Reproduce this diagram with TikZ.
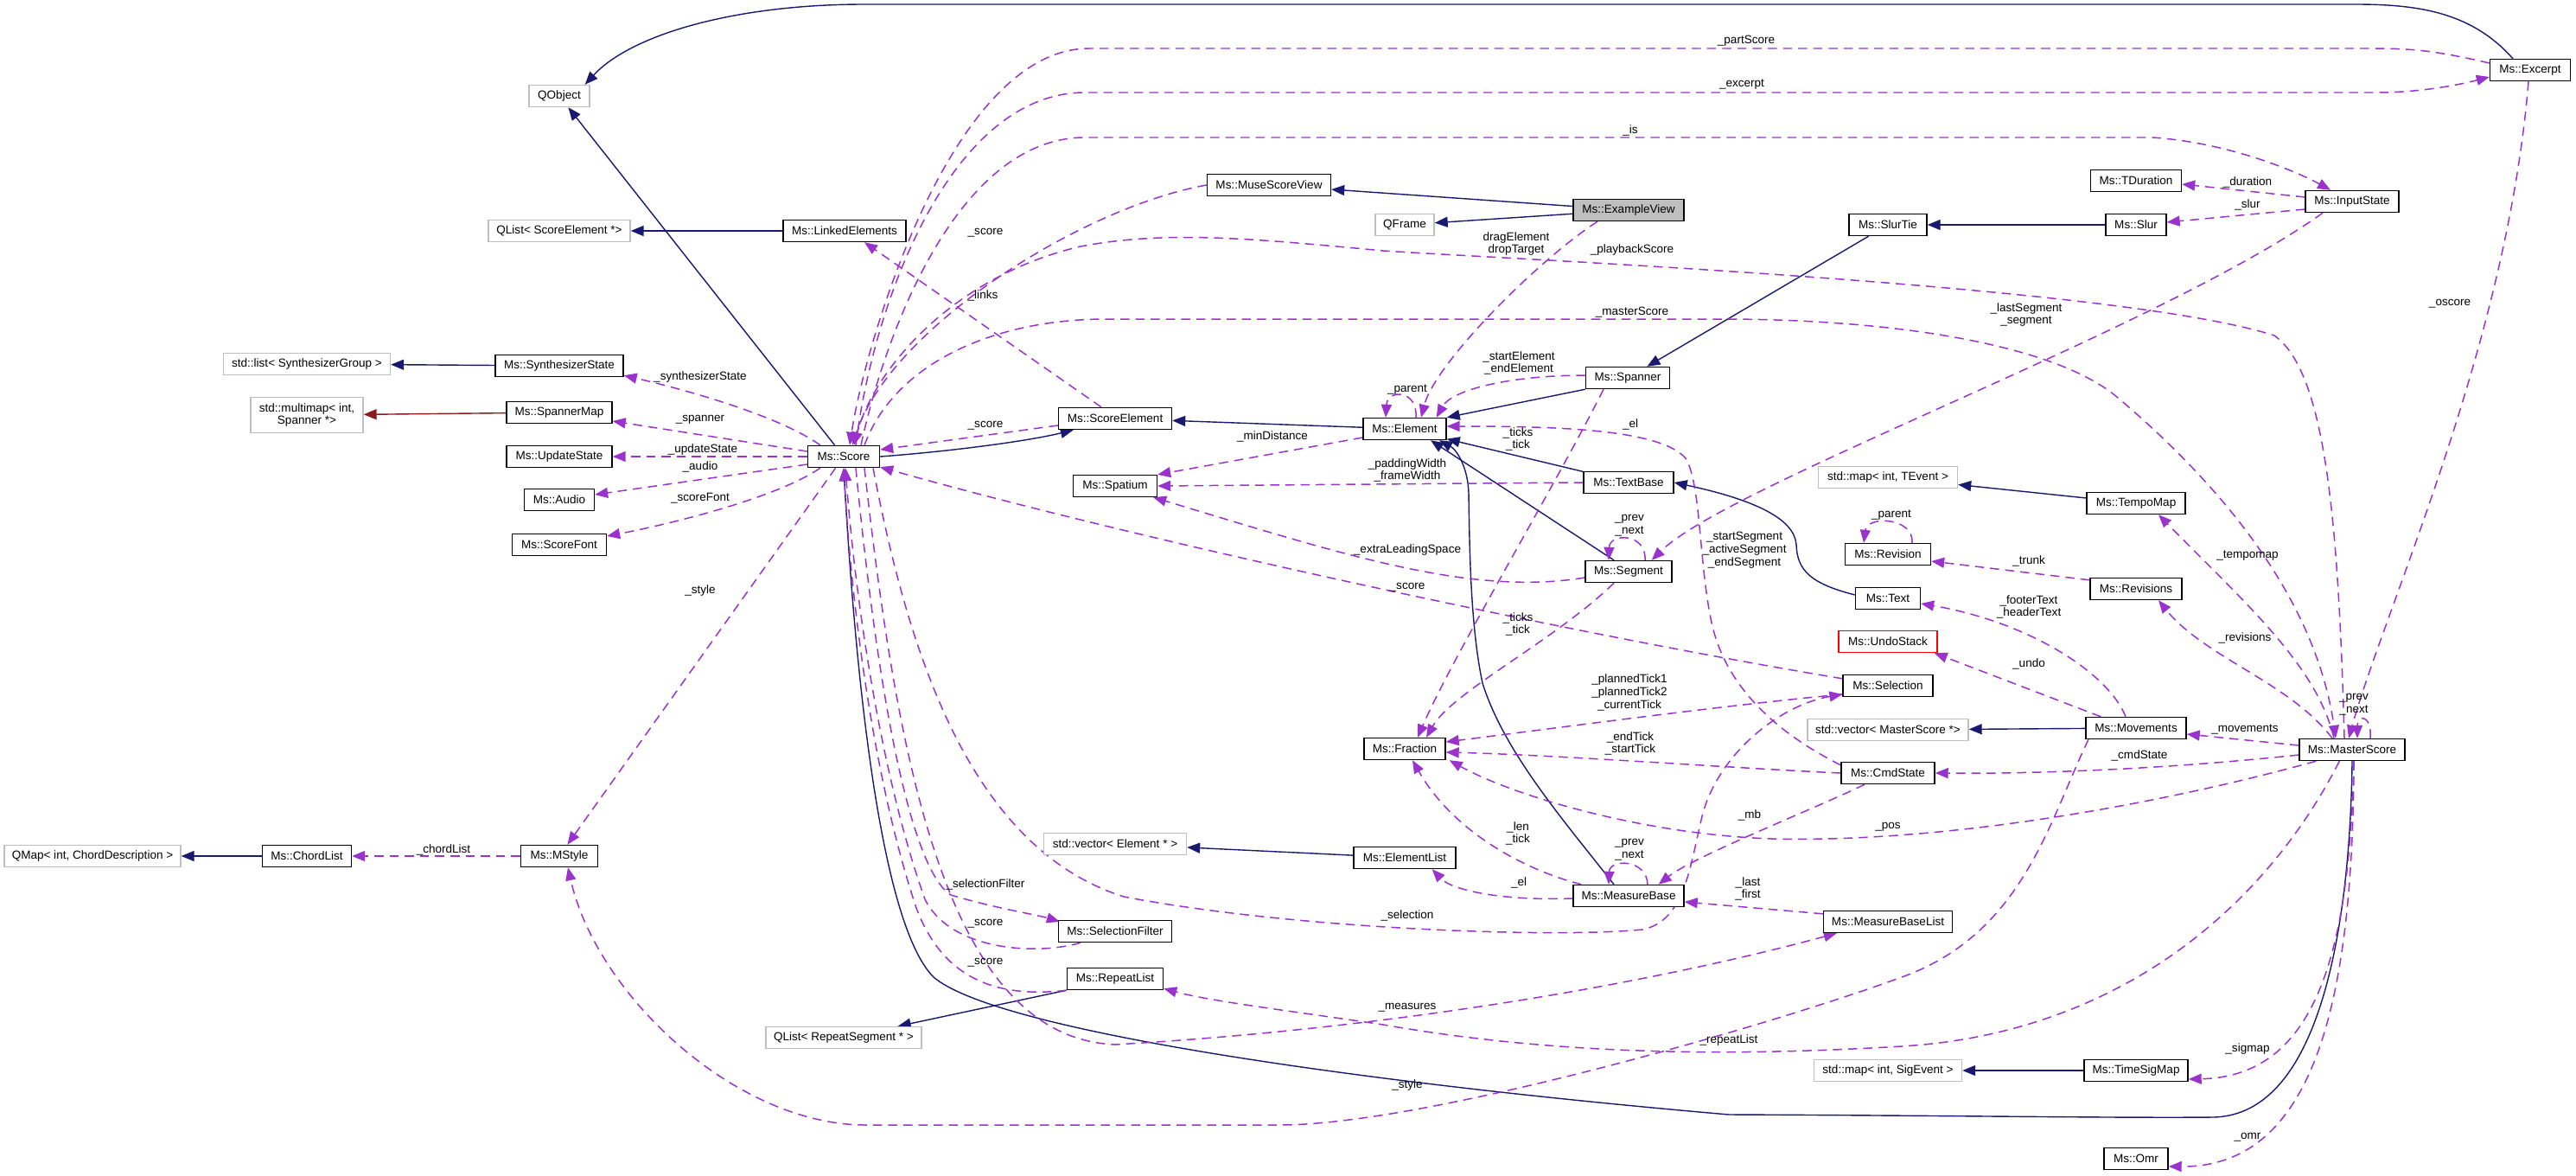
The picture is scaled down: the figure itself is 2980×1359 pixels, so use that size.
\documentclass[tikz,border=0pt]{standalone}
\usepackage{fontspec}
\setmainfont{Liberation Sans}
\usepackage{xcolor}
\definecolor{MidnightBlue}{HTML}{191970}
\definecolor{Orchid}{HTML}{9A32CD}
\definecolor{Firebrick}{HTML}{8B1A1A}
\definecolor{Grey75}{HTML}{BFBFBF}
\colorlet{inhcol}{MidnightBlue}
\colorlet{usecol}{Orchid}
\colorlet{privcol}{Firebrick}
\colorlet{extcol}{Grey75}
\usepackage{tikz}
\usetikzlibrary{arrows.meta,calc,backgrounds}

\begin{document}
\begin{tikzpicture}[x=0.02cm,y=-0.02cm,
  every node/.style={font=\fontsize{7.7}{8.4}\selectfont,align=center,inner sep=0pt},
  cls/.style={draw=black,line width=0.8pt,fill=white,minimum height=5mm},
  ext/.style={draw=extcol,line width=0.8pt,fill=white,minimum height=5mm},
  lbl/.style={text=black},
  tip/.style={-{Triangle[length=3mm,width=2.4mm]}},
  inh/.style={tip,draw=inhcol,line width=0.8pt},
  priv/.style={tip,draw=privcol,line width=0.8pt},
  use/.style={tip,draw=usecol,line width=0.85pt,dash pattern=on 6pt off 4pt}]
\useasboundingbox (0,0) rectangle (2980,1359);
\node[ext,minimum width=14mm] (qobject) at (647,111) {QObject};
\node[ext,minimum width=32.8mm] (qlistse) at (647,267) {QList< ScoreElement *>};
\node[ext,minimum width=38.6mm] (stdlist) at (355,421) {std::list< SynthesizerGroup >};
\node[ext,minimum width=26mm,minimum height=8.2mm] (multimap) at (355,480) {std::multimap< int,\\ Spanner *>};
\node[ext,minimum width=40.8mm] (qmap) at (107,990) {QMap< int, ChordDescription >};
\node[ext,minimum width=36mm] (qlistrs) at (976,1200) {QList< RepeatSegment * >};
\node[ext,minimum width=13.6mm] (qframe) at (1625,260) {QFrame};
\node[ext,minimum width=33mm] (vecelem) at (1290,976) {std::vector< Element * >};
\node[ext,minimum width=32.2mm] (maptevent) at (2184,552) {std::map< int, TEvent >};
\node[ext,minimum width=37.2mm] (vecms) at (2184,844) {std::vector< MasterScore *>};
\node[ext,minimum width=34.2mm] (mapsig) at (2184,1238) {std::map< int, SigEvent >};
\node[cls,minimum width=18.6mm] (excerpt) at (2927,81) {Ms::Excerpt};
\node[cls,minimum width=28.6mm] (musescoreview) at (1468,214) {Ms::MuseScoreView};
\node[cls,fill=extcol,minimum width=25.6mm] (exampleview) at (1884,243) {Ms::ExampleView};
\node[cls,minimum width=21mm] (tduration) at (2471,209) {Ms::TDuration};
\node[cls,minimum width=21.6mm] (inputstate) at (2721,233) {Ms::InputState};
\node[cls,minimum width=18mm] (slurtie) at (2184,260) {Ms::SlurTie};
\node[cls,minimum width=14mm] (slur) at (2471,260) {Ms::Slur};
\node[cls,minimum width=28.4mm] (linked) at (977,267) {Ms::LinkedElements};
\node[cls,minimum width=29.6mm] (synth) at (647,423) {Ms::SynthesizerState};
\node[cls,minimum width=19.4mm] (spanner) at (1883,437) {Ms::Spanner};
\node[cls,minimum width=24.4mm] (spannermap) at (647,477) {Ms::SpannerMap};
\node[cls,minimum width=16.6mm] (score) at (976,528) {Ms::Score};
\node[cls,minimum width=24.4mm] (updatestate) at (647,528) {Ms::UpdateState};
\node[cls,minimum width=16.2mm] (audio) at (647,578) {Ms::Audio};
\node[cls,minimum width=21.8mm] (scorefont) at (647,630) {Ms::ScoreFont};
\node[cls,minimum width=26.2mm] (scoreelement) at (1290,484) {Ms::ScoreElement};
\node[cls,minimum width=19.2mm] (element) at (1625,496) {Ms::Element};
\node[cls,minimum width=19.4mm] (spatium) at (1290,562) {Ms::Spatium};
\node[cls,minimum width=20.8mm] (textbase) at (1884,558) {Ms::TextBase};
\node[cls,minimum width=20mm] (segment) at (1884,661) {Ms::Segment};
\node[cls,minimum width=18.8mm] (fraction) at (1625,866) {Ms::Fraction};
\node[cls,minimum width=22.8mm] (tempomap) at (2471,582) {Ms::TempoMap};
\node[cls,minimum width=19.8mm] (revision) at (2184,641) {Ms::Revision};
\node[cls,minimum width=21.2mm] (revisions) at (2471,681) {Ms::Revisions};
\node[cls,minimum width=15mm] (text) at (2184,692) {Ms::Text};
\node[cls,draw=red,minimum width=22.8mm] (undostack) at (2184,742) {Ms::UndoStack};
\node[cls,minimum width=20.8mm] (selection) at (2184,793) {Ms::Selection};
\node[cls,minimum width=23.2mm] (movements) at (2471,842) {Ms::Movements};
\node[cls,minimum width=24.4mm] (masterscore) at (2721,867) {Ms::MasterScore};
\node[cls,minimum width=21.6mm] (cmdstate) at (2184,894) {Ms::CmdState};
\node[cls,minimum width=20.6mm] (chordlist) at (355,990) {Ms::ChordList};
\node[cls,minimum width=17.8mm] (mstyle) at (647,990) {Ms::MStyle};
\node[cls,minimum width=23.6mm] (elementlist) at (1625,992) {Ms::ElementList};
\node[cls,minimum width=25.6mm] (measurebase) at (1884,1036) {Ms::MeasureBase};
\node[cls,minimum width=26.2mm] (selectionfilter) at (1290,1077) {Ms::SelectionFilter};
\node[cls,minimum width=22.2mm] (repeatlist) at (1290,1132) {Ms::RepeatList};
\node[cls,minimum width=29.8mm] (mblist) at (2184,1066) {Ms::MeasureBaseList};
\node[cls,minimum width=24mm] (timesigmap) at (2471,1238) {Ms::TimeSigMap};
\node[cls,minimum width=14.8mm] (omr) at (2471,1340) {Ms::Omr};
\node[lbl] (l-partscore) at (2020,47) {\_partScore};
\node[lbl] (l-excerpt) at (2015,98) {\_excerpt};
\node[lbl] (l-is) at (1886,151) {\_is};
\node[lbl] (l-msvscore) at (1140,269) {\_score};
\node[lbl] (l-links) at (1137,342) {\_links};
\node[lbl] (l-drag) at (1754,282) {dragElement\\dropTarget};
\node[lbl] (l-playback) at (1888,289) {\_playbackScore};
\node[lbl] (l-master) at (1888,361) {\_masterScore};
\node[lbl] (l-oscore) at (2834,351) {\_oscore};
\node[lbl] (l-duration) at (2600,211) {\_duration};
\node[lbl] (l-slur) at (2600,237) {\_slur};
\node[lbl] (l-lastseg) at (2344,364) {\_lastSegment\\\_segment};
\node[lbl] (l-synth) at (810,436) {\_synthesizerState};
\node[lbl] (l-spanner) at (810,485) {\_spanner};
\node[lbl] (l-update) at (813,520) {\_updateState};
\node[lbl] (l-audio) at (810,540) {\_audio};
\node[lbl] (l-scorefont) at (810,576) {\_scoreFont};
\node[lbl] (l-style) at (810,683) {\_style};
\node[lbl] (l-chordlist) at (513,983) {\_chordList};
\node[lbl] (l-movstyle) at (1628,1255) {\_style};
\node[lbl] (l-sescore) at (1140,492) {\_score};
\node[lbl] (l-parent) at (1628,451) {\_parent};
\node[lbl] (l-mindist) at (1472,505) {\_minDistance};
\node[lbl] (l-startel) at (1757,420) {\_startElement\\\_endElement};
\node[lbl] (l-spticks) at (1756,508) {\_ticks\\\_tick};
\node[lbl] (l-el) at (1886,491) {\_el};
\node[lbl] (l-padding) at (1628,544) {\_paddingWidth\\\_frameWidth};
\node[lbl] (l-extra) at (1628,636) {\_extraLeadingSpace};
\node[lbl] (l-segprev) at (1885,608) {\_prev\\\_next};
\node[lbl] (l-selscore) at (1628,679) {\_score};
\node[lbl] (l-segticks) at (1756,722) {\_ticks\\\_tick};
\node[lbl] (l-startseg) at (2018,636) {\_startSegment\\\_activeSegment\\\_endSegment};
\node[lbl] (l-planned) at (1885,801) {\_plannedTick1\\\_plannedTick2\\\_currentTick};
\node[lbl] (l-endtick) at (1886,860) {\_endTick\\\_startTick};
\node[lbl] (l-len) at (1756,964) {\_len\\\_tick};
\node[lbl] (l-mbprev) at (1885,983) {\_prev\\\_next};
\node[lbl] (l-mbel) at (1757,1021) {\_el};
\node[lbl] (l-selection) at (1628,1059) {\_selection};
\node[lbl] (l-last) at (2022,1028) {\_last\\\_first};
\node[lbl] (l-mb) at (2024,943) {\_mb};
\node[lbl] (l-pos) at (2184,956) {\_pos};
\node[lbl] (l-measures) at (1628,1165) {\_measures};
\node[lbl] (l-selfilter) at (1140,1023) {\_selectionFilter};
\node[lbl] (l-sfscore) at (1140,1068) {\_score};
\node[lbl] (l-rlscore) at (1140,1113) {\_score};
\node[lbl] (l-repeat) at (2000,1203) {\_repeatList};
\node[lbl] (l-sigmap) at (2600,1213) {\_sigmap};
\node[lbl] (l-omr) at (2600,1315) {\_omr};
\node[lbl] (l-movements) at (2597,843) {\_movements};
\node[lbl] (l-cmdstate) at (2475,874) {\_cmdState};
\node[lbl] (l-msprev) at (2723,815) {\_prev\\\_next};
\node[lbl] (l-tempomap) at (2600,643) {\_tempomap};
\node[lbl] (l-revisions) at (2597,738) {\_revisions};
\node[lbl] (l-trunk) at (2347,649) {\_trunk};
\node[lbl] (l-revparent) at (2188,596) {\_parent};
\node[lbl] (l-footer) at (2347,702) {\_footerText\\\_headerText};
\node[lbl] (l-undo) at (2347,768) {\_undo};
\begin{scope}[on background layer]
\fill[white] (0,0) rectangle (2980,1359);
\draw[inh] ($(excerpt.north)+(-20,0)$) .. controls (2860,15) and (2800,5) .. (2725,5) -- (1000,5) .. controls (850,5) and (730,40) .. ($(qobject.north east)+(-6,0)$);
\draw[inh] (score) -- (qobject);
\draw[inh] (score.east) .. controls (1100,522) and (1190,510) .. ($(scoreelement.south west)+(18,0)$);
\draw[inh] (element) -- (scoreelement);
\draw[inh] (spanner.south west) -- (element.north east);
\draw[inh] (slurtie) -- (spanner);
\draw[inh] (slur) -- (slurtie);
\draw[inh] (textbase) -- (element);
\draw[inh] ($(text.west)+(0,-4)$) .. controls (2095,675) and (2079,660) .. (2078,630) .. controls (2076,600) and (2030,578) .. (textbase.east);
\draw[inh] ($(segment.north)+(-17,0)$) -- ($(element.south)+(30,0)$);
\draw[inh] ($(measurebase.north)+(-17,0)$) .. controls (1810,950) and (1740,870) .. (1715,790) .. controls (1700,720) and (1700,620) .. (1699,570) .. controls (1698,540) and (1685,520) .. ($(element.south)+(40,0)$);
\draw[inh] (exampleview) -- (musescoreview);
\draw[inh] (exampleview) -- (qframe);
\draw[inh] (linked) -- (qlistse);
\draw[inh] (synth) -- (stdlist);
\draw[priv] (spannermap) -- (multimap);
\draw[inh] (chordlist) -- (qmap);
\draw[inh] (elementlist) -- (vecelem);
\draw[inh] (repeatlist.south west) -- ($(qlistrs.north east)+(-28,0)$);
\draw[inh] (tempomap) -- (maptevent);
\draw[inh] (movements) -- (vecms);
\draw[inh] (timesigmap) -- (mapsig);
\draw[inh] (masterscore.south) .. controls (2719,1050) and (2690,1290) .. (2560,1292) .. controls (2450,1293) and (2250,1290) .. (2000,1289) .. controls (1550,1250) and (1150,1190) .. (1080,1130) .. controls (1010,1060) and (985,700) .. (score.south);
\draw[use] ($(excerpt.west)+(0,-8)$) .. controls (2815,58) and (2790,56) .. (2740,56) -- (1260,56) .. controls (1100,56) and (1000,400) .. ($(score.north)+(7,0)$);
\draw[use] ($(score.north)+(14,0)$) .. controls (1010,350) and (1100,107) .. (1255,107) -- (2750,107) .. controls (2800,107) and (2845,98) .. ($(excerpt.west)+(0,8)$);
\draw[use] ($(score.north)+(20,0)$) .. controls (1025,380) and (1110,159) .. (1255,159) -- (2490,159) .. controls (2580,165) and (2660,200) .. ($(inputstate.north)+(-25,0)$);
\draw[use] (musescoreview.west) .. controls (1250,240) and (1030,380) .. ($(score.north)+(10,0)$);
\draw[use] ($(scoreelement.north)+(-16,0)$) -- ($(linked.south)+(23,0)$);
\draw[use] ($(exampleview.south)+(-36,0)$) .. controls (1780,300) and (1660,420) .. ($(element.north)+(19,0)$);
\draw[use] ($(masterscore.north)+(-9,0)$) .. controls (2705,600) and (2690,430) .. (2631,388) .. controls (2450,330) and (1750,300) .. (1600,290) .. controls (1450,276) and (1350,266) .. (1250,285) .. controls (1100,320) and (1010,430) .. ($(score.north)+(12,0)$);
\draw[use] ($(score.north)+(24,0)$) .. controls (1035,420) and (1150,369) .. (1280,369) -- (2000,369) .. controls (2200,370) and (2380,400) .. (2450,460) .. controls (2580,570) and (2680,700) .. ($(masterscore.north)+(-19,0)$);
\draw[use] ($(excerpt.south)+(-2,0)$) .. controls (2900,400) and (2760,700) .. ($(masterscore.north)+(-4,0)$);
\draw[use] ($(inputstate.west)+(0,-5)$) -- ($(tduration.east)+(0,4)$);
\draw[use] ($(inputstate.west)+(0,9)$) -- ($(slur.east)+(0,-3)$);
\draw[use] ($(inputstate.south)+(-34,0)$) .. controls (2500,380) and (2000,560) .. ($(segment.north east)+(-24,0)$);
\draw[use] ($(score.north west)+(15,0)$) .. controls (900,480) and (790,450) .. ($(synth.south east)+(0,-2)$);
\draw[use] ($(score.west)+(0,-6)$) -- ($(spannermap.east)+(0,10)$);
\draw[use] (score) -- (updatestate);
\draw[use] ($(score.west)+(0,9)$) -- ($(audio.east)+(0,-6)$);
\draw[use] ($(score.south west)+(15,0)$) .. controls (900,575) and (780,605) .. ($(scorefont.east)+(0,-10)$);
\draw[use] (score) -- (mstyle);
\draw[use] (mstyle) -- (chordlist);
\draw[use] ($(movements.south)+(-55,0)$) .. controls (2370,950) and (2340,1080) .. (2200,1130) .. controls (2050,1185) and (1650,1301) .. (1480,1301) -- (1000,1301) .. controls (850,1300) and (690,1150) .. ($(mstyle.south)+(10,0)$);
\draw[use] ($(scoreelement.west)+(0,8)$) -- ($(score.east)+(0,-8)$);
\draw[use] ($(element.north)+(13,0)$) .. controls (1640,450) and (1605,450) .. ($(element.north)+(-22,0)$);
\draw[use] ($(element.west)+(0,10)$) -- (spatium.north east);
\draw[use] ($(spanner.west)+(0,-3)$) .. controls (1750,434) and (1680,450) .. ($(element.north east)+(-12,0)$);
\draw[use] ($(spanner.south)+(-28,0)$) .. controls (1800,560) and (1680,760) .. ($(fraction.north)+(15,0)$);
\draw[use] ($(cmdstate.north west)+(0,4)$) .. controls (2050,845) and (1995,790) .. (1980,720) .. controls (1965,650) and (1968,560) .. (1950,530) .. controls (1920,495) and (1790,493) .. ($(element.east)+(0,-3)$);
\draw[use] (textbase.west) -- (spatium.east);
\draw[use] ($(segment.west)+(0,7)$) .. controls (1700,690) and (1550,640) .. ($(spatium.south east)+(-5,0)$);
\draw[use] ($(segment.north)+(19,0)$) .. controls (1905,616) and (1862,616) .. ($(segment.north)+(-23,0)$);
\draw[use] ($(selection.north west)+(0,5)$) .. controls (1800,730) and (1300,620) .. ($(score.south east)+(0,-1)$);
\draw[use] ($(segment.south)+(-17,0)$) .. controls (1800,740) and (1680,800) .. ($(fraction.north)+(25,0)$);
\draw[use] ($(selection.west)+(0,10)$) .. controls (2000,815) and (1800,842) .. ($(fraction.east)+(0,-8)$);
\draw[use] (cmdstate.west) .. controls (2000,888) and (1800,873) .. ($(fraction.east)+(0,4)$);
\draw[use] ($(measurebase.north west)+(10,0)$) .. controls (1760,1005) and (1680,960) .. ($(fraction.south)+(9,0)$);
\draw[use] ($(measurebase.north)+(22,0)$) .. controls (1905,993) and (1862,993) .. ($(measurebase.north)+(-23,0)$);
\draw[use] ($(measurebase.west)+(0,3)$) .. controls (1740,1042) and (1680,1030) .. ($(elementlist.south east)+(-28,0)$);
\draw[use] ($(score.south)+(34,0)$) .. controls (1050,750) and (1120,980) .. (1300,1037) .. controls (1500,1075) and (1800,1085) .. (1900,1075) .. controls (1950,1065) and (1955,1000) .. (1970,940) .. controls (1990,870) and (2060,815) .. ($(selection.west)+(0,10)$);
\draw[use] ($(mblist.north west)+(0,4)$) -- ($(measurebase.east)+(0,7)$);
\draw[use] ($(cmdstate.south)+(-27,0)$) .. controls (2100,935) and (1960,990) .. ($(measurebase.north east)+(-30,0)$);
\draw[use] ($(masterscore.south west)+(20,0)$) .. controls (2500,930) and (2250,975) .. (2050,970) .. controls (1900,965) and (1750,920) .. ($(fraction.south east)+(4,0)$);
\draw[use] ($(score.south)+(24,0)$) .. controls (1040,900) and (1100,1200) .. (1290,1208) .. controls (1600,1190) and (1900,1140) .. ($(mblist.south west)+(16,0)$);
\draw[use] ($(score.south)+(14,0)$) .. controls (1020,850) and (1060,1010) .. (1100,1035) .. controls (1150,1050) and (1200,1058) .. ($(selectionfilter.north west)+(2,2)$);
\draw[use] ($(selectionfilter.south)+(-40,0)$) .. controls (1200,1105) and (1100,1100) .. (1070,1040) .. controls (1020,900) and (990,700) .. ($(score.south)+(2,0)$);
\draw[use] (repeatlist.south west) .. controls (1150,1155) and (1090,1130) .. (1060,1050) .. controls (1010,900) and (985,700) .. (score.south);
\draw[use] ($(masterscore.south west)+(47,0)$) .. controls (2620,1050) and (2450,1195) .. (2200,1210) .. controls (2000,1222) and (1800,1220) .. (1600,1185) .. controls (1500,1170) and (1400,1158) .. ($(repeatlist.south east)+(0,-2)$);
\draw[use] ($(masterscore.south)+(2,0)$) .. controls (2718,1100) and (2680,1245) .. ($(timesigmap.east)+(0,10)$);
\draw[use] ($(masterscore.south)+(2,0)$) .. controls (2722,1150) and (2680,1350) .. ($(omr.east)+(0,9)$);
\draw[use] ($(masterscore.west)+(0,-5)$) -- ($(movements.east)+(0,7)$);
\draw[use] ($(masterscore.west)+(0,6)$) .. controls (2500,890) and (2350,895) .. (cmdstate.east);
\draw[use] ($(masterscore.north)+(21,0)$) .. controls (2744,826) and (2727,826) .. ($(masterscore.north)+(6,0)$);
\draw[use] ($(masterscore.north)+(-21,0)$) .. controls (2680,770) and (2600,700) .. ($(tempomap.south)+(26,0)$);
\draw[use] ($(masterscore.north)+(-23,0)$) .. controls (2650,790) and (2550,760) .. ($(revisions.south)+(26,0)$);
\draw[use] ($(revisions.north west)+(0,3)$) -- ($(revision.east)+(0,8)$);
\draw[use] ($(revision.north)+(28,0)$) .. controls (2214,598) and (2160,596) .. ($(revision.north)+(-28,0)$);
\draw[use] ($(movements.north)+(-12,0)$) .. controls (2440,780) and (2350,720) .. ($(text.east)+(0,6)$);
\draw[use] ($(movements.north west)+(18,0)$) -- ($(undostack.south east)+(-4,0)$);
\end{scope}
\end{tikzpicture}
\end{document}
